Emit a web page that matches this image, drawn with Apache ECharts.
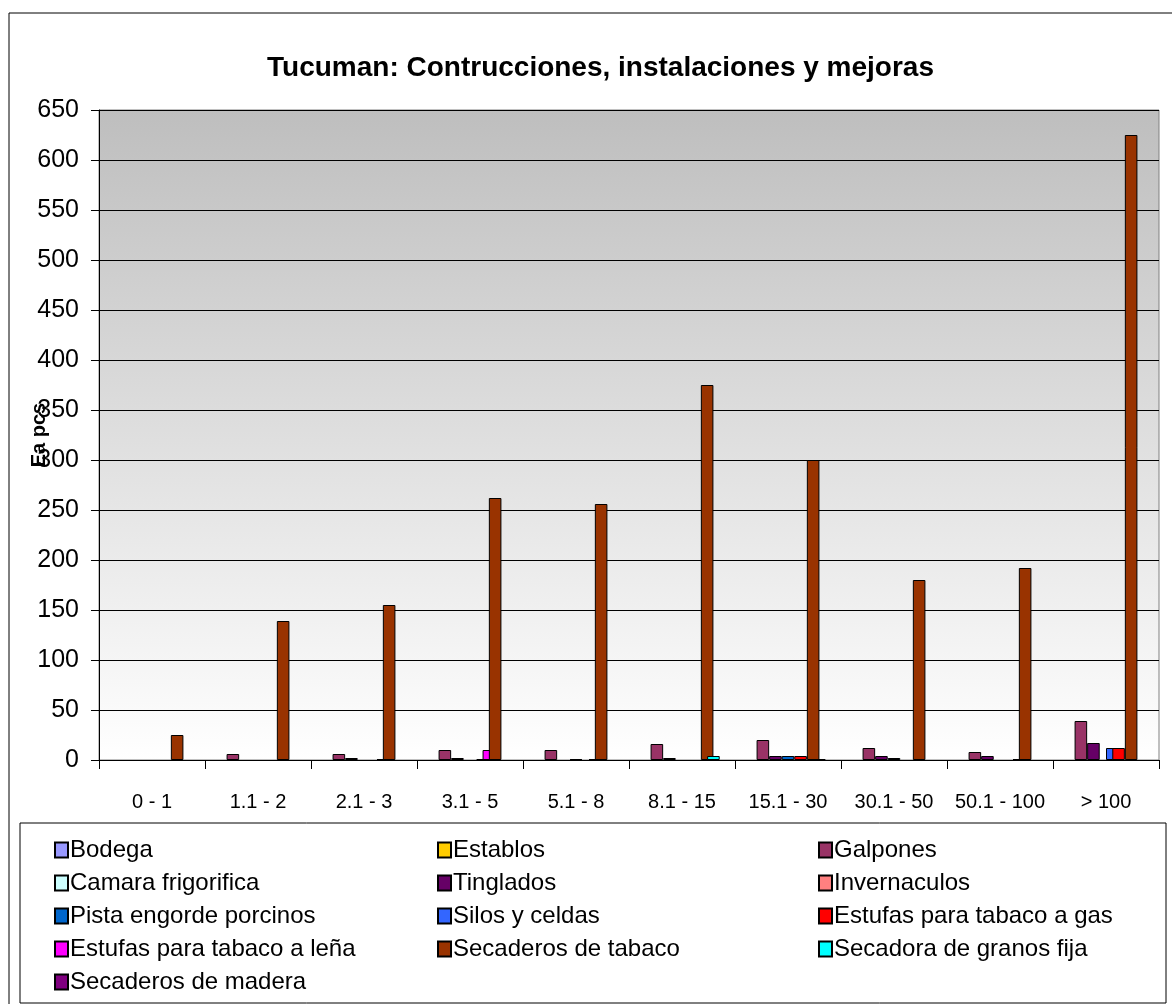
<!DOCTYPE html>
<html>
<head>
    <meta charset="utf-8">
    <title>Tucuman</title>
    <script src="https://cdn.jsdelivr.net/npm/echarts@6/dist/echarts.min.js"></script>
    <style>
        html, body { margin: 0; padding: 0; background: #fff; }
        #main { width: 1172px; height: 1004px; }
    </style>
</head>
<body>
<div id="main"></div>
<script type="text/javascript">
    // datos
    var categorias = ['0 - 1', '1.1 - 2', '2.1 - 3', '3.1 - 5', '5.1 - 8', '8.1 - 15', '15.1 - 30', '30.1 - 50', '50.1 - 100', '> 100'];
    var ticksY = [0, 50, 100, 150, 200, 250, 300, 350, 400, 450, 500, 550, 600, 650];

    var bodega          = [0, 0, 0, 0, 0, 0, 0, 0, 0, 0];
    var establos        = [0, 0, 0, 0, 0, 0, 0, 0, 0, 0];
    var galpones        = [0, 6, 6, 10, 10, 16, 20, 12, 8, 39];
    var camara          = [0, 0, 0, 0, 0, 0, 0, 0, 0, 0];
    var tinglados       = [0, 0, 2, 2, 0, 2, 4, 4, 4, 17];
    var invernaculos    = [0, 0, 0, 0, 0, 0, 0, 0, 0, 0];
    var pista           = [0, 0, 0, 0, 1, 0, 4, 2, 0, 0];
    var silos           = [0, 0, 0, 0, 0, 0, 0, 0, 0, 12];
    var estufasGas      = [0, 0, 0, 1, 0, 0, 4, 0, 0, 12];
    var estufasLena     = [0, 0, 1, 10, 1, 0, 0, 0, 1, 0];
    var secaderosTabaco = [25, 139, 155, 262, 256, 375, 300, 180, 192, 625];
    var secadoraGranos  = [0, 0, 0, 0, 0, 4, 1, 0, 0, 0];
    var secaderosMadera = [0, 0, 0, 0, 0, 0, 0, 0, 0, 0];

    var nombres = ['Bodega', 'Establos', 'Galpones', 'Camara frigorifica', 'Tinglados', 'Invernaculos',
        'Pista engorde porcinos', 'Silos y celdas', 'Estufas para tabaco a gas', 'Estufas para tabaco a leña',
        'Secaderos de tabaco', 'Secadora de granos fija', 'Secaderos de madera'];
    var valores = [bodega, establos, galpones, camara, tinglados, invernaculos, pista, silos,
        estufasGas, estufasLena, secaderosTabaco, secadoraGranos, secaderosMadera];
    var colores = ['#9999FF', '#FFCC00', '#993366', '#CCFFFF', '#660066', '#FF8080', '#0066CC', '#3366FF',
        '#FF0000', '#FF00FF', '#993300', '#00FFFF', '#800080'];

    var fuente = "'Liberation Sans', Arial, sans-serif";

    var series = [];
    for (var i = 0; i < nombres.length; i++) {
        series.push({
            name: nombres[i],
            type: 'bar',
            barGap: '-50%',
            barCategoryGap: '17%',
            itemStyle: { color: colores[i], borderColor: '#000', borderWidth: 1 },
            data: valores[i].map(function (v) { return v === 0 ? '-' : v; })
        });
    }

    function leyenda(left, items) {
        return {
            orient: 'vertical',
            left: left,
            top: 835,
            padding: 0,
            itemWidth: 13,
            itemHeight: 15,
            itemGap: 3,
            icon: 'rect',
            selectedMode: false,
            data: items,
            textStyle: { fontFamily: fuente, fontSize: 24, color: '#000', lineHeight: 30, padding: [0, 0, 0, -3] }
        };
    }

    var myChart = echarts.init(document.getElementById('main'));
    var option = {
        animation: false,
        backgroundColor: '#fff',
        title: {
            text: 'Tucuman: Contrucciones, instalaciones y mejoras',
            left: 267,
            top: 54,
            padding: 0,
            textStyle: { fontFamily: fuente, fontSize: 28, fontWeight: 'bold', color: '#000' }
        },
        legend: [
            leyenda(54, ['Bodega', 'Camara frigorifica', 'Pista engorde porcinos', 'Estufas para tabaco a leña', 'Secaderos de madera']),
            leyenda(437, ['Establos', 'Tinglados', 'Silos y celdas', 'Secaderos de tabaco']),
            leyenda(818, ['Galpones', 'Invernaculos', 'Estufas para tabaco a gas', 'Secadora de granos fija'])
        ],
        grid: {
            left: 99,
            top: 110,
            right: 13,
            bottom: 244,
            outerBoundsMode: 'none',
            show: true,
            borderColor: '#808080',
            borderWidth: 1,
            backgroundColor: {
                type: 'linear', x: 0, y: 0, x2: 0, y2: 1,
                colorStops: [{ offset: 0, color: '#BEBEBE' }, { offset: 1, color: '#FFFFFF' }]
            }
        },
        xAxis: {
            type: 'category',
            data: categorias,
            axisLine: { lineStyle: { color: '#000', width: 1 } },
            axisTick: { show: true, length: 9, lineStyle: { color: '#000' } },
            axisLabel: { fontFamily: fuente, fontSize: 20, color: '#000', margin: 32, interval: 0 }
        },
        yAxis: {
            type: 'value',
            min: ticksY[0],
            max: ticksY[ticksY.length - 1],
            interval: 50,
            name: 'Ea pcs',
            nameLocation: 'middle',
            nameRotate: 90,
            nameGap: 50,
            nameMoveOverlap: false,
            nameTextStyle: { fontFamily: fuente, fontSize: 20, fontWeight: 'bold', color: '#000' },
            axisLine: { show: true, lineStyle: { color: '#000', width: 1 } },
            axisTick: { show: true, length: 8, lineStyle: { color: '#000' } },
            axisLabel: { fontFamily: fuente, fontSize: 25, color: '#000', margin: 20 },
            splitLine: { show: true, lineStyle: { color: '#000', width: 1 } }
        },
        graphic: [
            { type: 'rect', shape: { x: 9, y: 13, width: 1200, height: 1100 }, style: { fill: 'none', stroke: '#000', lineWidth: 1 }, silent: true },
            { type: 'rect', shape: { x: 20, y: 823, width: 1146, height: 180 }, style: { fill: 'none', stroke: '#000', lineWidth: 1 }, silent: true }
        ],
        series: series
    };
    myChart.setOption(option);
</script>
</body>
</html>
